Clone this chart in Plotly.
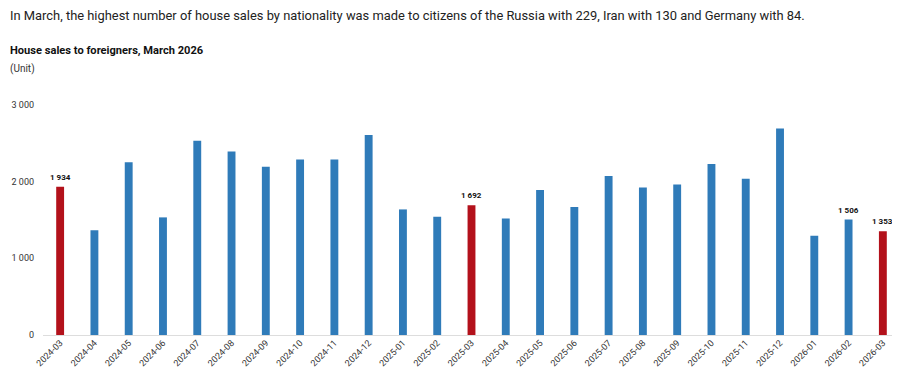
import plotly.graph_objects as go

months = ["2024-03", "2024-04", "2024-05", "2024-06", "2024-07", "2024-08", "2024-09",
          "2024-10", "2024-11", "2024-12", "2025-01", "2025-02", "2025-03", "2025-04",
          "2025-05", "2025-06", "2025-07", "2025-08", "2025-09", "2025-10", "2025-11",
          "2025-12", "2026-01", "2026-02", "2026-03"]
sales = [1934, 1365, 2252, 1534, 2534, 2395, 2195, 2290, 2290, 2608, 1638, 1543,
         1692, 1521, 1890, 1669, 2073, 1925, 1964, 2229, 2038, 2695, 1295, 1506, 1353]
labelled = ["2024-03", "2025-03", "2026-02", "2026-03"]
highlight = ["2024-03", "2025-03", "2026-03"]

heading = ("In March, the highest number of house sales by nationality was made to citizens "
           "of the Russia with 229, Iran with 130 and Germany with 84.")
title = "House sales to foreigners, March 2026"
unit = "(Unit)"

BLUE = "#2f7bb9"
RED = "#b3111b"

# page body has an 8px margin; figure sized/positioned to compensate
W, H = 892, 372
L, R, T, B = 35, 0, 97, 45
PW, PH = W - L - R, H - T - B


def px(x):
    return (x - 8 - L) / PW


def py(y):
    return (H - B - (y - 8)) / PH


colors = [RED if m in highlight else BLUE for m in months]

fig = go.Figure(go.Bar(
    x=months, y=sales, marker=dict(color=colors, line=dict(width=0)),
    width=0.23, cliponaxis=False, hoverinfo="x+y",
))

for m, v in zip(months, sales):
    if m in labelled:
        fig.add_annotation(x=m, y=v, xref="x", yref="y", text="<b>" + f"{v:,}".replace(",", " ") + "</b>",
                           showarrow=False, yanchor="bottom", xanchor="center", yshift=3,
                           font=dict(size=8, color="#111111", family="Roboto"))

fig.update_layout(
    width=W, height=H,
    margin=dict(l=L, r=R, t=T, b=B, autoexpand=False),
    paper_bgcolor="white", plot_bgcolor="white",
    separators=". ",
    font=dict(family="Roboto", size=9, color="#333333"),
    showlegend=False,
    xaxis=dict(type="category", tickangle=-45, showgrid=False, zeroline=False,
               showline=False, ticks="", automargin=False,
               tickfont=dict(size=9, color="#333333")),
    yaxis=dict(range=[0, 3000], tickvals=[0, 1000, 2000, 3000], tickformat=",d",
               showgrid=False, zeroline=True, zerolinecolor="#dddddd", zerolinewidth=1,
               showline=False, ticks="", ticklabelstandoff=8, automargin=False,
               tickfont=dict(size=9, color="#333333")),
)

fig.add_annotation(text=heading, xref="paper", yref="paper", x=px(8), y=py(15),
                   xanchor="left", yanchor="middle", showarrow=False,
                   font=dict(size=12.9, color="#222222", family="Roboto"))
fig.add_annotation(text="<b>" + title + "</b>", xref="paper", yref="paper", x=px(8),
                   y=py(50), xanchor="left", yanchor="middle", showarrow=False,
                   font=dict(size=11.1, color="#111111", family="Roboto"))
fig.add_annotation(text=unit, xref="paper", yref="paper", x=px(8),
                   y=py(69), xanchor="left", yanchor="middle", showarrow=False,
                   font=dict(size=10, color="#333333", family="Roboto"))

fig.write_html("out.html")
